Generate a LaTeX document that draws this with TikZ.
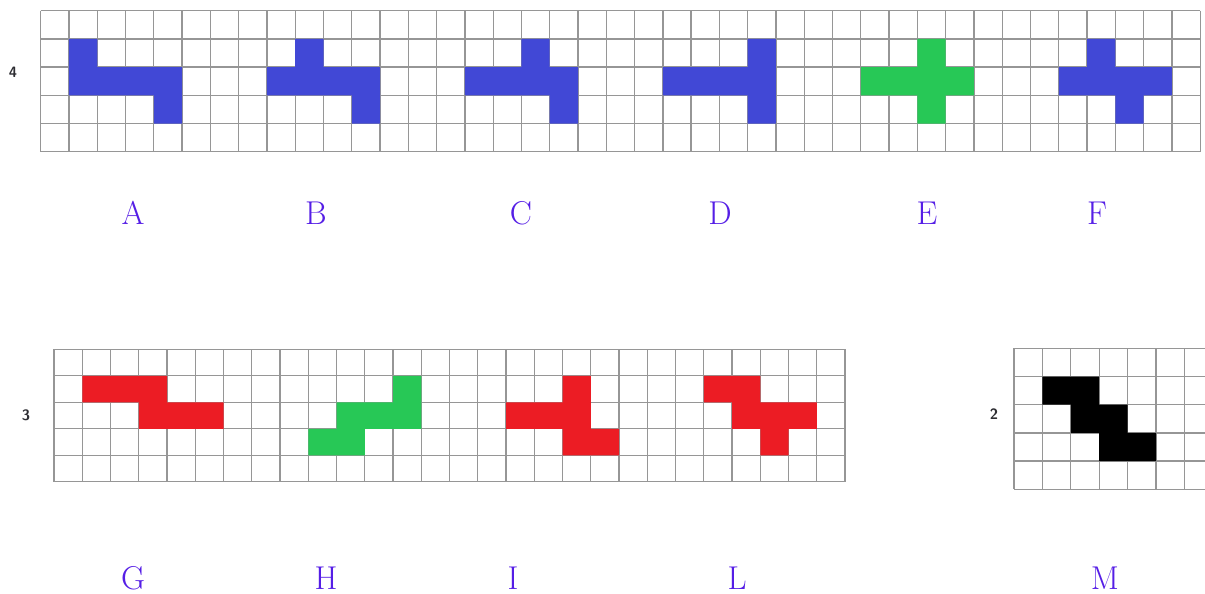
\documentclass[tikz,border=0pt]{standalone}
\usetikzlibrary{calc}
\definecolor{gridgray}{RGB}{150,150,150}
\definecolor{pblue}{RGB}{65,72,214}
\definecolor{pgreen}{RGB}{39,200,86}
\definecolor{pred}{RGB}{236,28,36}
\definecolor{lettercol}{RGB}{85,30,230}
\definecolor{numcol}{RGB}{45,45,50}
\tikzset{
  gridline/.style={draw=gridgray, line width=1.3pt},
  letterlab/.style={text=lettercol, font=\fontsize{33}{33}\selectfont, inner sep=0pt, anchor=base},
  numlab/.style={text=numcol, font=\sffamily\bfseries\fontsize{15}{15}\selectfont, inner sep=0pt},
}
\begin{document}
\begin{tikzpicture}[x=1pt,y=-1pt]
\useasboundingbox (0,0) rectangle (1205,594);
\fill[white] (0,0) rectangle (1205,594);

% ---------- top grid ----------
\begin{scope}[shift={(40.7,10.7)}, x=28.28pt, y=-28.2pt]
  \foreach \i in {0,...,41} \draw[gridline] (\i,0) -- (\i,5);
  \foreach \j in {0,...,5} \draw[gridline] (0,\j) -- (41,\j);
  % A
  \fill[pblue] (1,1) -- (2,1) -- (2,2) -- (5,2) -- (5,4) -- (4,4) -- (4,3) -- (1,3) -- cycle;
  % B
  \fill[pblue] (9,1) -- (10,1) -- (10,2) -- (12,2) -- (12,4) -- (11,4) -- (11,3) -- (8,3) -- (8,2) -- (9,2) -- cycle;
  % C
  \fill[pblue] (17,1) -- (18,1) -- (18,2) -- (19,2) -- (19,4) -- (18,4) -- (18,3) -- (15,3) -- (15,2) -- (17,2) -- cycle;
  % D
  \fill[pblue] (25,1) -- (26,1) -- (26,4) -- (25,4) -- (25,3) -- (22,3) -- (22,2) -- (25,2) -- cycle;
  % E
  \fill[pgreen] (31,1) -- (32,1) -- (32,2) -- (33,2) -- (33,3) -- (32,3) -- (32,4) -- (31,4) -- (31,3) -- (29,3) -- (29,2) -- (31,2) -- cycle;
  % F
  \fill[pblue] (37,1) -- (38,1) -- (38,2) -- (40,2) -- (40,3) -- (39,3) -- (39,4) -- (38,4) -- (38,3) -- (36,3) -- (36,2) -- (37,2) -- cycle;
\end{scope}

% ---------- bottom-left grid ----------
\begin{scope}[shift={(54,349.3)}, x=28.25pt, y=-26.5pt]
  \foreach \i in {0,...,28} \draw[gridline] (\i,0) -- (\i,5);
  \foreach \j in {0,...,5} \draw[gridline] (0,\j) -- (28,\j);
  % G
  \fill[pred] (1,1) -- (4,1) -- (4,2) -- (6,2) -- (6,3) -- (3,3) -- (3,2) -- (1,2) -- cycle;
  % H
  \fill[pgreen] (12,1) -- (13,1) -- (13,3) -- (11,3) -- (11,4) -- (9,4) -- (9,3) -- (10,3) -- (10,2) -- (12,2) -- cycle;
  % I
  \fill[pred] (18,1) -- (19,1) -- (19,3) -- (20,3) -- (20,4) -- (18,4) -- (18,3) -- (16,3) -- (16,2) -- (18,2) -- cycle;
  % L
  \fill[pred] (23,1) -- (25,1) -- (25,2) -- (27,2) -- (27,3) -- (26,3) -- (26,4) -- (25,4) -- (25,3) -- (24,3) -- (24,2) -- (23,2) -- cycle;
\end{scope}

% ---------- bottom-right grid ----------
\begin{scope}[shift={(1014,348.3)}, x=28.4pt, y=-28.2pt]
  \foreach \i in {0,...,6} \draw[gridline] (\i,0) -- (\i,5);
  \foreach \j in {0,...,5} \draw[gridline] (0,\j) -- (6.75,\j);
  % M
  \fill[black] (1,1) -- (3,1) -- (3,2) -- (4,2) -- (4,3) -- (5,3) -- (5,4) -- (3,4) -- (3,3) -- (2,3) -- (2,2) -- (1,2) -- cycle;
\end{scope}

% ---------- row numbers ----------
\node[numlab] (n4) at (13,72) {4};
\node[numlab] (n3) at (26,415) {3};
\node[numlab] (n2) at (994,414) {2};

% ---------- letters ----------
\node[letterlab] (lA) at (133,224.5) {A};
\node[letterlab] (lB) at (316,224.5) {B};
\node[letterlab] (lC) at (521,224.5) {C};
\node[letterlab] (lD) at (720,224.5) {D};
\node[letterlab] (lE) at (927,224.5) {E};
\node[letterlab] (lF) at (1097,224.5) {F};
\node[letterlab] (lG) at (133,589.5) {G};
\node[letterlab] (lH) at (326,589.5) {H};
\node[letterlab] (lI) at (513,589.5) {I};
\node[letterlab] (lL) at (737,589.5) {L};
\node[letterlab] (lM) at (1105,589.5) {M};
\end{tikzpicture}
\end{document}
